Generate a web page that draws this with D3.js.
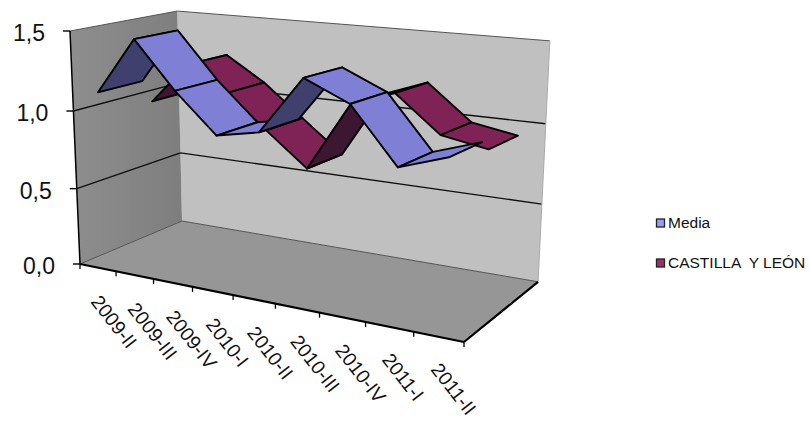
<!DOCTYPE html>
<html>
<head>
<meta charset="utf-8">
<script src="https://cdnjs.cloudflare.com/ajax/libs/d3/7.8.5/d3.min.js"></script>
<style>
  html, body { margin: 0; padding: 0; background: #fff; }
  svg { display: block; }
  text { font-family: "Liberation Sans", Arial, sans-serif; fill: #111; white-space: pre; }
</style>
</head>
<body>
<svg width="810" height="421"></svg>
<script>
const categories = ['2009-II', '2009-III', '2009-IV', '2010-I', '2010-II', '2010-III', '2010-IV', '2011-I', '2011-II'];
const media = [1.12, 1.47, 1.18, 0.94, 0.99, 1.33, 1.21, 0.89, 0.98];
const castilla = [0.97, 1.24, 1.08, 0.87, 0.66, 1.09, 1.19, 0.97, 0.92];
const yTicks = [0, 0.5, 1, 1.5];
const legendNames = ['Media', 'CASTILLA  Y LEÓN'];

const svg = d3.select('svg');
const chart = svg.append('g');

const xScale = d3.scaleBand().domain(categories).range([0, 1]);
const yScale = d3.scaleLinear().domain([0, 1.5]).range([0, 1]);

//--------------PROJECTION (box corners)-----
const O = [80, 264], U = [464, 342], V = [70, 31], W = [182, 221];
const a = -0.171, b = -0.044, c = 0.114;
const sag = 6; // the far top corner sits a little lower than a pure perspective gives

function project(u, v, w) {
  const d = 1 + a * u + b * v + c * w;
  const f = i => O[i] + (U[i] * (1 + a) - O[i]) * u + (V[i] * (1 + b) - O[i]) * v + (W[i] * (1 + c) - O[i]) * w;
  return [f(0) / d, f(1) / d + sag * u * v * w];
}
const pt = (u, val, w) => project(u, yScale(val), w);
const poly = pts => 'M' + pts.map(p => p.join(',')).join('L') + 'Z';
const seg = (p, q) => 'M' + p.join(',') + 'L' + q.join(',');

//--------------WALLS----------------------------------------
const defs = svg.append('defs');
const grad = defs.append('linearGradient').attr('id', 'side');
grad.append('stop').attr('offset', 0).attr('stop-color', '#8e8e8e');
grad.append('stop').attr('offset', 1).attr('stop-color', '#7e7e7e');
defs.append('filter').attr('id', 'soft')
    .attr('x', '-5%').attr('y', '-5%').attr('width', '110%').attr('height', '110%')
  .append('feGaussianBlur').attr('stdDeviation', 0.45);

const box = chart.append('g').attr('filter', 'url(#soft)');
box.append('path').attr('fill', '#c0c0c0')
   .attr('d', poly([project(0, 0, 1), project(1, 0, 1), project(1, 1, 1), project(0, 1, 1)]));
box.append('path').attr('fill', 'url(#side)')
   .attr('d', poly([project(0, 0, 0), project(0, 0, 1), project(0, 1, 1), project(0, 1, 0)]));
box.append('path').attr('fill', '#969696')
   .attr('d', poly([project(0, 0, 0), project(1, 0, 0), project(1, 0, 1), project(0, 0, 1)]));

// gridlines
yTicks.forEach(t => {
  const isEdge = t === 0 || t === 1.5;
  box.append('path')
     .attr('fill', 'none')
     .attr('stroke', isEdge ? '#555' : '#111')
     .attr('stroke-width', isEdge ? 1 : 1.4)
     .attr('d', seg(pt(0, t, 0), pt(0, t, 1)) + seg(pt(0, t, 1), pt(1, t, 1)));
});
// box edges
box.append('path').attr('fill', 'none').attr('stroke', '#aaa').attr('stroke-width', 1)
   .attr('d', seg(project(1, 0, 1), project(1, 1, 1)));
box.append('path').attr('fill', 'none').attr('stroke', '#000').attr('stroke-width', 1.5)
   .attr('d', seg(project(0, 0, 0), project(0, 1, 0)));
box.append('path').attr('fill', 'none').attr('stroke', '#000').attr('stroke-width', 2.2)
   .attr('d', seg(project(0, 0, 0), project(1, 0, 0)) + seg(project(1, 0, 0), project(1, 0, 1)));

//--------------AXES-----------------------------------------
const labels = chart.append('g');
yTicks.forEach(t => {
  const p = pt(0, t, 0);
  box.append('path').attr('stroke', '#000').attr('stroke-width', 1.4)
     .attr('d', seg([p[0] - 7, p[1]], p));
  labels.append('text')
     .attr('x', p[0] - 25).attr('y', p[1] + 10)
     .attr('text-anchor', 'end').attr('font-size', 23)
     .text(t.toFixed(1).replace('.', ','));
});
categories.concat(['']).forEach((cat, i) => {
  const u = i / categories.length;
  const p = project(u, 0, 0);
  box.append('path').attr('stroke', '#000').attr('stroke-width', 1.3)
     .attr('d', seg(p, [p[0], p[1] + 5]));
  if (cat) {
    labels.append('text')
       .attr('transform', `translate(${p[0] + 10 + i * 0.8},${p[1] + 38}) rotate(52)`)
       .attr('font-size', 19.5).text(cat);
  }
});

//--------------RIBBONS--------------------------------------
function drawRibbon(values, zFront, zBack, light, dark) {
  const g = chart.append('g').attr('filter', 'url(#soft)');
  const uOf = i => xScale(categories[i]) + xScale.bandwidth() / 2;
  d3.pairs(d3.range(values.length)).forEach(([i, j]) => {
    const pts = [pt(uOf(i), values[i], zFront), pt(uOf(j), values[j], zFront),
                 pt(uOf(j), values[j], zBack), pt(uOf(i), values[i], zBack)];
    const under = d3.polygonArea(pts) < 0;
    g.append('path')
     .attr('d', poly(pts))
     .attr('fill', under ? dark : light)
     .attr('stroke', '#000').attr('stroke-width', 1.9).attr('stroke-linejoin', 'round');
  });
}
drawRibbon(castilla, 0.55, 0.95, '#7f2455', '#3e1230');
drawRibbon(media, 0.06, 0.46, '#7f7fd6', '#3f3f6e');

//--------------LEGEND---------------------------------------
const legendColors = ['#9999ff', '#993366'];
legendNames.forEach((name, i) => {
  const yy = 223 + i * 40;
  chart.append('rect').attr('x', 656.5).attr('y', yy - 4).attr('width', 8).attr('height', 8)
     .attr('fill', legendColors[i]).attr('stroke', '#222').attr('stroke-width', 1.3);
  chart.append('text').attr('x', 668).attr('y', yy + 5).attr('font-size', 15.5).text(name);
});
</script>
</body>
</html>
